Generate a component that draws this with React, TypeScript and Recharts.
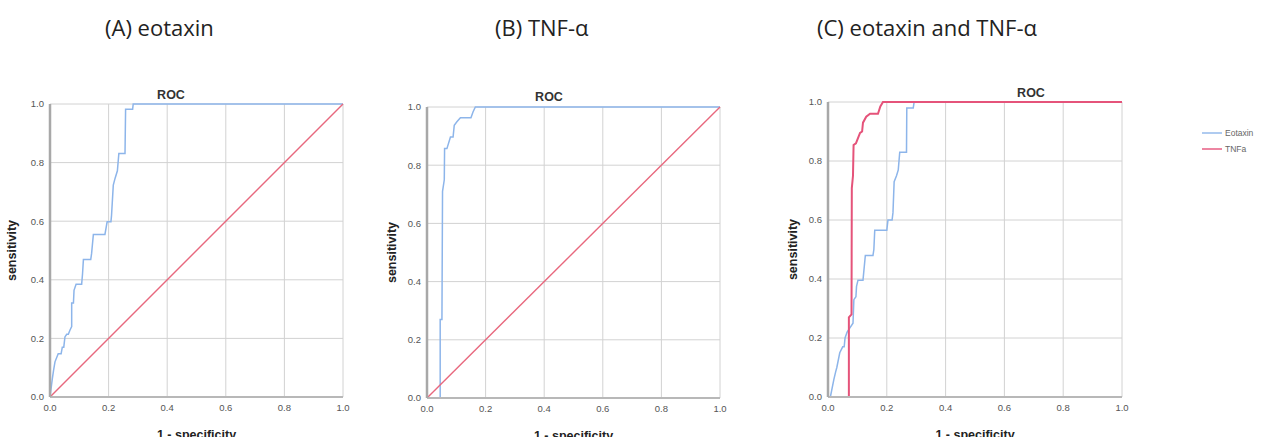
import React from "react";
import { LineChart, Line, XAxis, YAxis, CartesianGrid, Legend } from "recharts";

// axis ticks shared by all three ROC panels
const ticks = [0, 0.2, 0.4, 0.6, 0.8, 1.0];

// (A) eotaxin
const eotaxinFprA = [0, 0.008, 0.012, 0.017, 0.028, 0.038, 0.042, 0.047, 0.051, 0.057, 0.0625, 0.068, 0.074, 0.074, 0.08, 0.082, 0.089, 0.108, 0.111, 0.114, 0.139, 0.142, 0.148, 0.1875, 0.195, 0.208, 0.21, 0.216, 0.222, 0.23, 0.235, 0.256, 0.258, 0.282, 0.284, 1];
const eotaxinTprA = [0, 0.063, 0.09, 0.12, 0.148, 0.148, 0.17, 0.17, 0.205, 0.214, 0.214, 0.228, 0.24, 0.321, 0.321, 0.364, 0.385, 0.385, 0.42, 0.469, 0.469, 0.49, 0.555, 0.555, 0.598, 0.598, 0.62, 0.723, 0.746, 0.772, 0.831, 0.831, 0.982, 0.982, 1, 1];

// (B) TNF-a
const tnfFprB = [0, 0.045, 0.045, 0.051, 0.053, 0.059, 0.06, 0.068, 0.08, 0.089, 0.093, 0.102, 0.114, 0.15, 0.157, 0.165, 1];
const tnfTprB = [0, 0, 0.27, 0.27, 0.71, 0.75, 0.857, 0.857, 0.897, 0.897, 0.937, 0.949, 0.963, 0.963, 0.983, 1, 1];

// (C) both markers
const eotaxinFprC = [0.008, 0.02, 0.026, 0.03, 0.04, 0.05, 0.055, 0.058, 0.065, 0.075, 0.085, 0.088, 0.095, 0.097, 0.102, 0.119, 0.127, 0.153, 0.156, 0.159, 0.2, 0.204, 0.218, 0.221, 0.225, 0.233, 0.239, 0.244, 0.267, 0.268, 0.29, 0.293, 1];
const eotaxinTprC = [0, 0.06, 0.085, 0.1, 0.15, 0.17, 0.17, 0.2, 0.22, 0.235, 0.25, 0.33, 0.34, 0.375, 0.396, 0.396, 0.48, 0.48, 0.5, 0.565, 0.565, 0.6, 0.6, 0.625, 0.73, 0.75, 0.77, 0.83, 0.83, 0.98, 0.98, 1, 1];
const tnfFprC = [0, 0.071, 0.071, 0.08, 0.081, 0.085, 0.087, 0.095, 0.109, 0.116, 0.119, 0.13, 0.143, 0.17, 0.178, 0.187, 1];
const tnfTprC = [0, 0, 0.27, 0.28, 0.708, 0.75, 0.854, 0.86, 0.895, 0.9, 0.93, 0.95, 0.96, 0.96, 0.985, 1, 1];

// reference diagonal
const refFpr = [0, 1];
const refTpr = [0, 1];

const toPoints = (fpr: number[], tpr: number[]) => fpr.map((x, i) => ({ x, y: tpr[i] }));

const BLUE = "#8db5ea";
const RED = "#e8687e";
const RED_DARK = "#e5537a";

type Series = { name: string; points: { x: number; y: number }[]; color: string; width: number; hideLegend?: boolean };

const fmt = (v: number) => v.toFixed(1);

const renderLegend = (props: any) => (
  <div>
    {props.payload.map((p: any) => (
      <div key={p.value} style={{ display: "flex", alignItems: "center", height: 16 }}>
        <span style={{ display: "inline-block", width: 20, borderTop: `2px solid ${p.color}`, opacity: 0.7, marginRight: 3 }} />
        <span style={{ fontSize: 8.5, color: "#666" }}>{p.value}</span>
      </div>
    ))}
  </div>
);

function RocChart({
  width,
  height,
  yAxisWidth,
  marginTop,
  marginRight,
  yLabelX,
  series,
  legend,
}: {
  width: number;
  height: number;
  yAxisWidth: number;
  marginTop: number;
  marginRight: number;
  yLabelX: number;
  series: Series[];
  legend?: boolean;
}) {
  return (
    <LineChart width={width} height={height} margin={{ top: marginTop, right: marginRight, bottom: 0, left: 0 }}>
      <CartesianGrid stroke="#d2d2d2" />
      <XAxis
        type="number"
        dataKey="x"
        domain={[0, 1]}
        ticks={ticks}
        tickFormatter={fmt}
        height={40}
        tickSize={0}
        tickMargin={7}
        axisLine={{ stroke: "#b8b8b8", strokeWidth: 2 }}
        tick={{ fill: "#555", fontSize: 9.5 }}
        label={{ value: "1 - specificity", position: "insideBottom", offset: -2, fill: "#222", fontSize: 12.5, fontWeight: "bold" }}
      />
      <YAxis
        type="number"
        dataKey="y"
        domain={[0, 1]}
        ticks={ticks}
        tickFormatter={fmt}
        width={yAxisWidth}
        tickSize={0}
        tickMargin={6}
        axisLine={{ stroke: "#a8a8a8", strokeWidth: 2.5 }}
        tick={{ fill: "#555", fontSize: 9.5 }}
        label={{
          value: "sensitivity",
          angle: -90,
          position: "insideLeft",
          offset: yLabelX,
          fill: "#222",
          fontSize: 12.5,
          fontWeight: "bold",
          style: { textAnchor: "middle" },
        }}
      />
      {series.map((s) => (
        <Line
          key={s.name}
          data={s.points}
          dataKey="y"
          name={s.name}
          type="linear"
          stroke={s.color}
          strokeWidth={s.width}
          dot={false}
          activeDot={false}
          legendType={s.hideLegend ? "none" : "plainline"}
          isAnimationActive={false}
        />
      ))}
      {legend && (
        <Legend
          layout="vertical"
          align="center"
          verticalAlign="middle"
          content={renderLegend}
          wrapperStyle={{ left: 442, top: 45, width: 70 }}
        />
      )}
    </LineChart>
  );
}

export default function App() {
  const seriesA: Series[] = [
    { name: "Eotaxin", points: toPoints(eotaxinFprA, eotaxinTprA), color: BLUE, width: 1.5 },
    { name: "Reference", points: toPoints(refFpr, refTpr), color: RED, width: 1.4, hideLegend: true },
  ];
  const seriesB: Series[] = [
    { name: "TNFa", points: toPoints(tnfFprB, tnfTprB), color: BLUE, width: 1.5 },
    { name: "Reference", points: toPoints(refFpr, refTpr), color: RED, width: 1.4, hideLegend: true },
  ];
  const seriesC: Series[] = [
    { name: "Eotaxin", points: toPoints(eotaxinFprC, eotaxinTprC), color: BLUE, width: 1.5 },
    { name: "TNFa", points: toPoints(tnfFprC, tnfTprC), color: RED_DARK, width: 2 },
  ];

  return (
    <div
      style={{
        position: "absolute",
        left: 0,
        top: 0,
        width: 1268,
        height: 437,
        background: "#fff",
        overflow: "hidden",
        fontFamily: "'Liberation Sans', Arial, sans-serif",
      }}
    >
      <svg width={1268} height={437} style={{ position: "absolute", left: 0, top: 0 }}>
        <g fontFamily="'Open Sans', sans-serif" fontSize={22} fill="#222">
          <text x={105} y={36}>(A) eotaxin</text>
          <text x={495} y={36}>(B) TNF-α</text>
          <text x={817} y={36}>(C) eotaxin and TNF-α</text>
        </g>
        <g fontFamily="'Liberation Sans', Arial, sans-serif" fontSize={12.5} fontWeight="bold" fill="#333" textAnchor="middle">
          <text x={171} y={99}>ROC</text>
          <text x={549} y={101}>ROC</text>
          <text x={1031} y={97}>ROC</text>
        </g>
      </svg>
      <div style={{ position: "absolute", left: 0, top: 80 }}>
        <RocChart width={360} height={357} yAxisWidth={50} marginTop={24} marginRight={17} yLabelX={12} series={seriesA} />
      </div>
      <div style={{ position: "absolute", left: 380, top: 80 }}>
        <RocChart width={350} height={358} yAxisWidth={47} marginTop={27} marginRight={10} yLabelX={12} series={seriesB} />
      </div>
      <div style={{ position: "absolute", left: 760, top: 80 }}>
        <RocChart width={508} height={357} yAxisWidth={68} marginTop={22} marginRight={146} yLabelX={33} series={seriesC} legend />
      </div>
    </div>
  );
}
